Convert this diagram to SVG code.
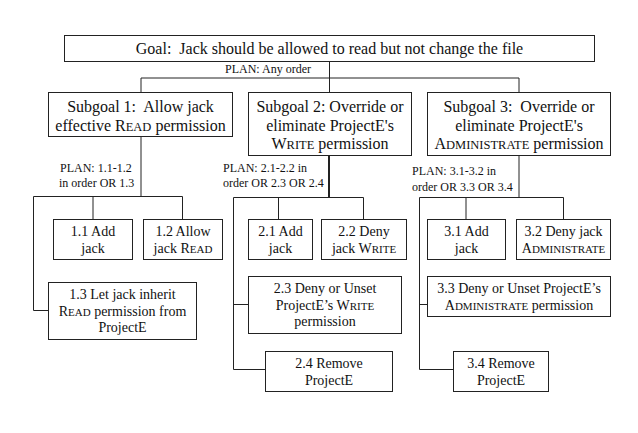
<svg xmlns="http://www.w3.org/2000/svg" width="638" height="433" viewBox="0 0 638 433">
<style>
.box{fill:#fff;stroke:#222;stroke-width:1}
.t{font-family:"Liberation Serif","Times New Roman",serif;fill:#111;text-anchor:middle}
.big{font-size:16px}
.leaf{font-size:14px}
.plan{font-family:"Liberation Serif","Times New Roman",serif;fill:#111;font-size:12px}
.c{fill:none;stroke:#222;stroke-width:1}
.thick{stroke-width:2}
.sc16{font-size:12.5px}
.sc14{font-size:11px}
</style>
<rect width="638" height="433" fill="#fff"/>
<g id="connectors">
<path class="c" d="M329.5,62 V78 M141,78 H519 M141,78 V92 M329.5,78 V92 M519,78 V92"/>
<path class="c" d="M141,137 V196.5 M33.5,196.5 H182.5 M93,196.5 V219 M182.5,196.5 V219 M33.5,196.5 V310.5 H48"/>
<path class="c thick" d="M329,156 V197.5"/>
<path class="c" d="M233.5,197.5 H363.5 M278.5,197.5 V219 M363.5,197.5 V219 M233.5,197.5 V369.5 H265 M233.5,304.5 H248"/>
<path class="c" d="M519,156 V197.5 M419.5,197.5 H563.5 M466,197.5 V219 M563.5,197.5 V219 M419.5,197.5 V369.5 H453 M419.5,304.5 H427"/>
</g>
<text class="plan" x="268" y="73" text-anchor="middle">PLAN: Any order</text>
<text class="plan" x="60" y="172">PLAN: 1.1-1.2</text>
<text class="plan" x="59" y="187">in order OR 1.3</text>
<text class="plan" x="223" y="172">PLAN: 2.1-2.2 in</text>
<text class="plan" x="223" y="187">order OR 2.3 OR 2.4</text>
<text class="plan" x="412" y="175">PLAN: 3.1-3.2 in</text>
<text class="plan" x="412" y="191">order OR 3.3 OR 3.4</text>
<g id="goal">
<rect class="box" x="64.5" y="35.5" width="530" height="26"/>
<text class="t big" x="329.5" y="54">Goal:&#160; Jack should be allowed to read but not change the file</text>
</g>
<g id="subgoal1">
<rect class="box" x="48.5" y="92.5" width="184" height="44"/>
<text class="t big" x="140.5" y="112">Subgoal 1:&#160; Allow jack</text>
<text class="t big" x="140.5" y="130.5">effective R<tspan class="sc16">EAD</tspan> permission</text>
</g>
<g id="subgoal2">
<rect class="box" x="248.5" y="92.5" width="163" height="63"/>
<text class="t big" x="330" y="112">Subgoal 2: Override or</text>
<text class="t big" x="330" y="130.5">eliminate ProjectE's</text>
<text class="t big" x="330" y="149">W<tspan class="sc16">RITE</tspan> permission</text>
</g>
<g id="subgoal3">
<rect class="box" x="427.5" y="92.5" width="183" height="63"/>
<text class="t big" x="519" y="112">Subgoal 3:&#160; Override or</text>
<text class="t big" x="519" y="130.5">eliminate ProjectE's</text>
<text class="t big" x="519" y="149">A<tspan class="sc16">DMINISTRATE</tspan> permission</text>
</g>
<g id="n11">
<rect class="box" x="53.5" y="219.5" width="79" height="40"/>
<text class="t leaf" x="93" y="236">1.1 Add</text>
<text class="t leaf" x="93" y="252.5">jack</text>
</g>
<g id="n12">
<rect class="box" x="143.5" y="219.5" width="79" height="40"/>
<text class="t leaf" x="183" y="236">1.2 Allow</text>
<text class="t leaf" x="183" y="252.5">jack R<tspan class="sc14">EAD</tspan></text>
</g>
<g id="n13">
<rect class="box" x="48.5" y="282.5" width="148" height="57"/>
<text class="t leaf" x="122.5" y="299">1.3 Let jack inherit</text>
<text class="t leaf" x="122.5" y="315.5">R<tspan class="sc14">EAD</tspan> permission from</text>
<text class="t leaf" x="122.5" y="332">ProjectE</text>
</g>
<g id="n21">
<rect class="box" x="248.5" y="219.5" width="64" height="40"/>
<text class="t leaf" x="280.5" y="236">2.1 Add</text>
<text class="t leaf" x="280.5" y="252.5">jack</text>
</g>
<g id="n22">
<rect class="box" x="321.5" y="219.5" width="85" height="40"/>
<text class="t leaf" x="364" y="236">2.2 Deny</text>
<text class="t leaf" x="364" y="252.5">jack W<tspan class="sc14">RITE</tspan></text>
</g>
<g id="n23">
<rect class="box" x="248.5" y="276.5" width="153" height="57"/>
<text class="t leaf" x="325" y="293">2.3 Deny or Unset</text>
<text class="t leaf" x="325" y="309.5">ProjectE’s W<tspan class="sc14">RITE</tspan></text>
<text class="t leaf" x="325" y="326">permission</text>
</g>
<g id="n24">
<rect class="box" x="265.5" y="351.5" width="127" height="40"/>
<text class="t leaf" x="329" y="368">2.4 Remove</text>
<text class="t leaf" x="329" y="384.5">ProjectE</text>
</g>
<g id="n31">
<rect class="box" x="427.5" y="219.5" width="78" height="40"/>
<text class="t leaf" x="466.5" y="236">3.1 Add</text>
<text class="t leaf" x="466.5" y="252.5">jack</text>
</g>
<g id="n32">
<rect class="box" x="516.5" y="219.5" width="94" height="40"/>
<text class="t leaf" x="563.5" y="236">3.2 Deny jack</text>
<text class="t leaf" x="563.5" y="252.5">A<tspan class="sc14">DMINISTRATE</tspan></text>
</g>
<g id="n33">
<rect class="box" x="427.5" y="276.5" width="183" height="40"/>
<text class="t leaf" x="519" y="293">3.3 Deny or Unset ProjectE’s</text>
<text class="t leaf" x="519" y="309.5">A<tspan class="sc14">DMINISTRATE</tspan> permission</text>
</g>
<g id="n34">
<rect class="box" x="453.5" y="351.5" width="95" height="40"/>
<text class="t leaf" x="501" y="368">3.4 Remove</text>
<text class="t leaf" x="501" y="384.5">ProjectE</text>
</g>
</svg>
